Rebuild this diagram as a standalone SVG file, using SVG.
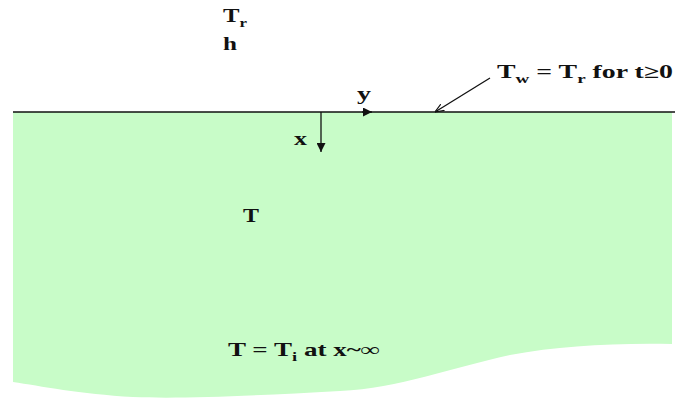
<svg xmlns="http://www.w3.org/2000/svg" width="675" height="403" viewBox="0 0 675 403">
<defs>
<style>
text{font-family:"Liberation Serif","Times New Roman",serif;font-weight:bold;font-size:19px;fill:#111}
.sub{font-size:13px}
.ln{stroke:#111;stroke-width:1.3;fill:none}
</style>
<marker id="fa" viewBox="0 0 10 10" refX="10" refY="5" markerWidth="9" markerHeight="9" markerUnits="userSpaceOnUse" orient="auto"><path d="M0,0 L10,5 L0,10 Z" fill="#111"/></marker>
<marker id="oa" viewBox="0 0 10 10" refX="10" refY="5" markerWidth="9" markerHeight="9" markerUnits="userSpaceOnUse" orient="auto"><path d="M0,1 L10,5 L0,9" fill="none" stroke="#111" stroke-width="1.3"/></marker>
</defs>
<rect width="675" height="403" fill="#fff"/>
<g id="medium">
<path d="M13,112 L672,112 L672,344 C610,343 560,346 510,355 C450,368 400,388 340,391 C250,396 180,399 133,397 C80,394 40,386 13,382 Z" fill="#c8fcc8"/>
</g>
<g id="surface">
<line class="ln" x1="13" y1="112" x2="675" y2="112"/>
</g>
<g id="connectors">
<line class="ln" x1="321" y1="112" x2="321" y2="152" marker-end="url(#fa)"/>
<line class="ln" x1="362" y1="112" x2="372" y2="112" marker-end="url(#fa)"/>
<line class="ln" x1="490" y1="78" x2="435" y2="112" marker-end="url(#oa)"/>
</g>
<g id="ambient">
<text x="223" y="22" textLength="24" lengthAdjust="spacingAndGlyphs">T<tspan class="sub" dy="5">r</tspan></text>
<text x="223" y="50" textLength="14" lengthAdjust="spacingAndGlyphs">h</text>
</g>
<g id="axes">
<text x="357" y="100" textLength="14" lengthAdjust="spacingAndGlyphs">y</text>
<text x="294" y="145" textLength="13" lengthAdjust="spacingAndGlyphs">x</text>
</g>
<g id="wall-label">
<text x="497" y="78" textLength="176" lengthAdjust="spacingAndGlyphs">T<tspan class="sub" dy="5">w</tspan><tspan dy="-5"> = T</tspan><tspan class="sub" dy="5">r</tspan><tspan dy="-5"> for t≥0</tspan></text>
</g>
<g id="interior">
<text x="243" y="222" textLength="16" lengthAdjust="spacingAndGlyphs">T</text>
</g>
<g id="far-field">
<text x="228" y="356" textLength="152" lengthAdjust="spacingAndGlyphs">T = T<tspan class="sub" dy="5">i</tspan><tspan dy="-5"> at x~∞</tspan></text>
</g>
</svg>
